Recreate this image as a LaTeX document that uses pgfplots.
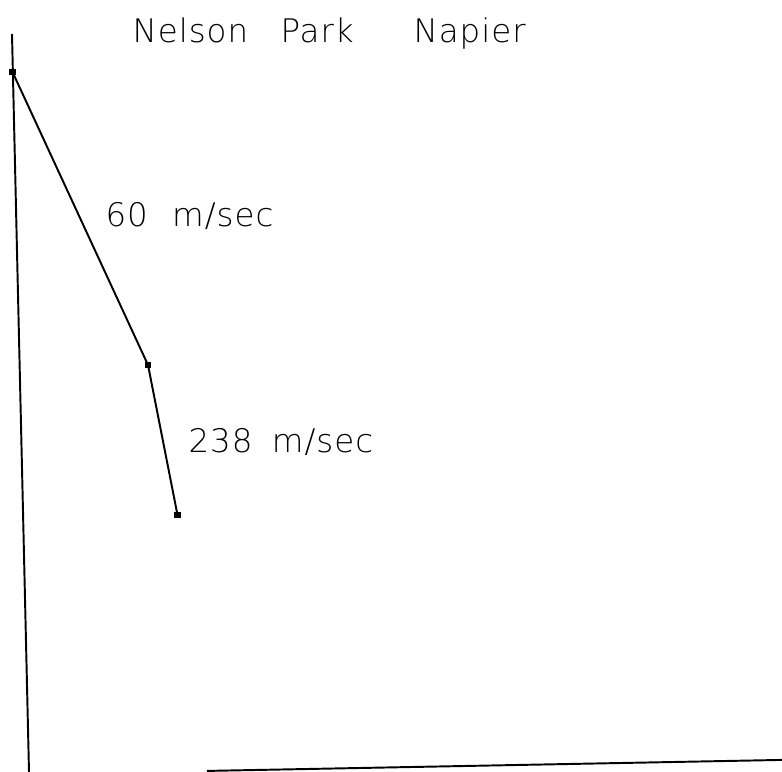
\documentclass[border=0pt]{standalone}
\usepackage{pgfplots}
\pgfplotsset{compat=1.18}
\usepackage{fontspec}
\newfontfamily\plotfont{DejaVu Sans ExtraLight}[LetterSpace=3]

\begin{document}
\begin{tikzpicture}
	\begin{axis}[
		scale only axis,
		width=9.9cm, height=9.773cm,
		xmin=0, xmax=782,
		ymin=0, ymax=772,
		y dir=reverse,
		hide axis,
		clip=false,
		every axis plot/.append style={black, line width=0.7pt},
		]
		% scanned frame lines (slightly skewed)
		\addplot[no marks] coordinates {(12,34) (29,772)};
		\addplot[no marks] coordinates {(207,771) (782,760)};
		% travel time segments
		\addplot[mark=square*, mark size=0.8pt] coordinates {(12.5,72) (148,365) (177.5,515)};

		\node[anchor=base west, font=\plotfont\fontsize{11.7}{13}\selectfont, inner sep=0pt] at (axis cs:132,43) {Nelson};
		\node[anchor=base west, font=\plotfont\fontsize{11.7}{13}\selectfont, inner sep=0pt] at (axis cs:280,43) {Park};
		\node[anchor=base west, font=\plotfont\fontsize{11.7}{13}\selectfont, inner sep=0pt] at (axis cs:413,43) {Napier};
		\node[anchor=base west, font=\plotfont\fontsize{11.7}{13}\selectfont, inner sep=0pt] at (axis cs:105,227) {60\hspace{0.75em}m/sec};
		\node[anchor=base west, font=\plotfont\fontsize{11.7}{13}\selectfont, inner sep=0pt] at (axis cs:188,453) {238\hspace{0.6em}m/sec};
	\end{axis}
	\pgfresetboundingbox
	\path[use as bounding box] (current axis.south west) rectangle (current axis.north east);
\end{tikzpicture}
\end{document}
